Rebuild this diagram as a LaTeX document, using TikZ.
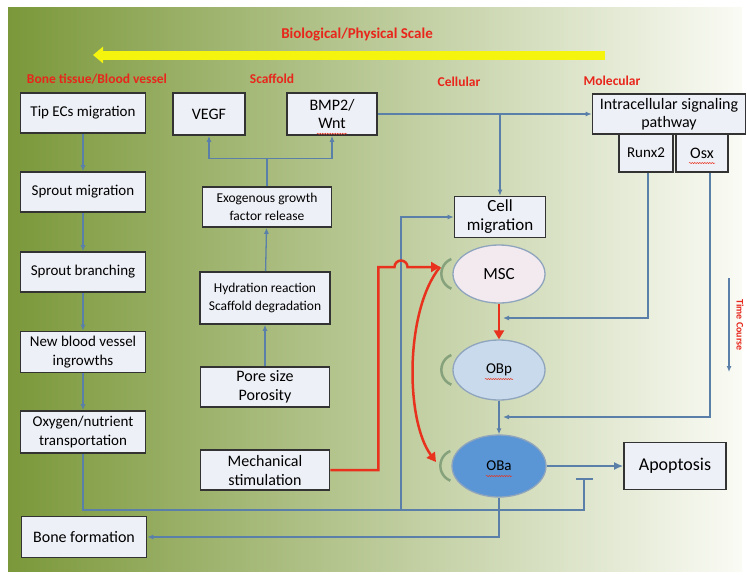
\documentclass[tikz,border=0pt]{standalone}
\usepackage{fontspec}
\setmainfont{Carlito}
\usetikzlibrary{shapes.geometric,arrows.meta,decorations.pathmorphing}

\definecolor{bgleft}{HTML}{7B983A}
\definecolor{bgmid}{HTML}{BFCF95}
\definecolor{bgright}{HTML}{FAFBF5}
\definecolor{boxfill}{HTML}{EEF0F7}
\definecolor{boxline}{HTML}{333333}
\definecolor{linkblue}{HTML}{5A7FA8}
\definecolor{redline}{HTML}{E8321E}
\definecolor{scalered}{HTML}{E8261C}
\definecolor{scaleyellow}{HTML}{F4F40E}
\definecolor{loopgreen}{HTML}{86A27C}
\definecolor{cellline}{HTML}{8FA5BD}
\definecolor{mscfill}{HTML}{F3EAF0}
\definecolor{obpfill}{HTML}{C9DAEC}
\definecolor{obafill}{HTML}{5A95D5}

\begin{document}
\begin{tikzpicture}[x=1pt,y=-1pt,
  >={Latex[length=6pt,width=5pt]},
  box/.style={rectangle,draw=boxline,fill=boxfill,line width=1.6pt,inner sep=1pt,align=center,font=\fontsize{15}{19}\selectfont},
  smallbox/.style={box,font=\fontsize{13.5}{18}\selectfont},
  cell/.style={ellipse,draw=cellline,line width=1.3pt,inner sep=0pt,minimum width=92pt,minimum height=60pt,font=\fontsize{15}{16}\selectfont},
  scalelabel/.style={text=scalered,font=\bfseries\fontsize{13.5}{15}\selectfont},
  link/.style={draw=linkblue,line width=1.3pt},
  redlink/.style={draw=redline,line width=2.5pt,>={Triangle[length=9pt,width=10pt]}},
  renew/.style={draw=loopgreen,line width=2.5pt},
  spell/.style={draw=redline,line width=0.5pt,decorate,decoration={snake,amplitude=0.6pt,segment length=2.5pt}}]
\useasboundingbox (0,0) rectangle (747,574);
\fill[white] (0,0) rectangle (747,574);
\shade[left color=bgleft,middle color=bgmid,right color=bgright] (8,7) rectangle (742,571);

\path (357,35) node[scalelabel,font=\bfseries\fontsize{15}{17}\selectfont] (title) {Biological/Physical Scale};
\coordinate (scaleR) at (605,55);
\coordinate (scaleL) at (93,55);
\draw[draw=scaleyellow,line width=9pt,-{Triangle[length=10pt,width=16pt]}] (scaleR) -- (scaleL);

\path (97,79) node[scalelabel] (tissue) {Bone tissue/Blood vessel};
\path (272,79) node[scalelabel] (scaffold) {Scaffold};
\path (459,82) node[scalelabel] (cellular) {Cellular};
\path (612,81) node[scalelabel] (molecular) {Molecular};

\path (83,113) node[box,minimum width=125pt,minimum height=40pt] (tip) {Tip ECs migration};
\path (83,192) node[box,minimum width=125pt,minimum height=40pt] (sproutmig) {Sprout migration};
\draw[link,->] (tip) -- (sproutmig);
\path (83,272) node[box,minimum width=125pt,minimum height=40pt] (branching) {Sprout branching};
\draw[link,->] (sproutmig) -- (branching);
\path (83,352) node[box,minimum width=125pt,minimum height=41pt] (vessel) {New blood vessel\\ingrowths};
\draw[link,->] (branching) -- (vessel);
\path (83,432) node[box,minimum width=125pt,minimum height=42pt] (oxygen) {Oxygen/nutrient\\transportation};
\draw[link,->] (vessel) -- (oxygen);
\path (84,537) node[box,minimum width=125pt,minimum height=41pt,font=\fontsize{16}{18}\selectfont] (bone) {Bone formation};

\path (209,114) node[box,minimum width=72pt,minimum height=42pt,font=\fontsize{16}{18}\selectfont] (vegf) {VEGF};
\path (332,114) node[box,minimum width=90pt,minimum height=42pt,font=\fontsize{16}{18}\selectfont] (bmp) {BMP2/\\Wnt};
\path (267,207) node[smallbox,minimum width=129pt,minimum height=40pt] (exo) {Exogenous growth\\factor release};
\draw[link,->] (exo.north) -- ++(0,-28) -| (vegf.south);
\draw[link,->] (exo.north) -- ++(0,-28) -| (bmp.south);
\path (265,298) node[smallbox,minimum width=130pt,minimum height=52pt] (hydra) {Hydration reaction\\Scaffold degradation};
\draw[link,->] (hydra) -- (exo);
\path (265,387) node[box,minimum width=129pt,minimum height=40pt,font=\fontsize{16}{19}\selectfont] (pore) {Pore size\\Porosity};
\draw[link,->] (pore) -- (hydra);
\path (265,470) node[box,minimum width=129pt,minimum height=40pt,font=\fontsize{16}{19}\selectfont] (mech) {Mechanical\\stimulation};

\path (500,217) node[box,minimum width=91pt,minimum height=41pt,font=\fontsize{17}{19}\selectfont] (cellmig) {Cell\\migration};
\path (669,114) node[box,minimum width=153pt,minimum height=40pt,font=\fontsize{16}{18}\selectfont] (signal) {Intracellular signaling\\pathway};
\path (646,153) node[box,minimum width=54pt,minimum height=38pt] (runx) {Runx2};
\path (702,153) node[box,minimum width=52pt,minimum height=38pt,font=\fontsize{16}{18}\selectfont] (osx) {Osx};
\draw[link,->] (bmp.east) -- (bmp.east -| signal.west);
\draw[link,->] (bmp.east -| cellmig.north) -- (cellmig.north);

\path (499,274) node[cell,fill=mscfill,minimum height=58pt,font=\fontsize{17}{18}\selectfont] (msc) {MSC};
\path (499,370) node[cell,fill=obpfill] (obp) {OBp};
\path (499,466) node[cell,fill=obafill,minimum width=94pt,minimum height=62pt] (oba) {OBa};
\draw[redlink,->] (msc) -- (obp);
\draw[link,->] (obp) -- (oba);
\draw[renew] ([xshift=-1pt,yshift=15pt]msc.west) arc[start angle=112,end angle=248,radius=16pt];
\draw[renew] ([xshift=-1pt,yshift=15pt]obp.west) arc[start angle=112,end angle=248,radius=16pt];
\draw[renew] ([xshift=-1pt,yshift=15pt]oba.west) arc[start angle=112,end angle=248,radius=16pt];

\coordinate (runxin) at (503,318);
\draw[link,->] ([xshift=2pt]runx.south) |- (runxin);
\coordinate (osxin) at (503,417);
\draw[link,->] ([xshift=8pt]osx.south) |- (osxin);

\path (675,466) node[box,minimum width=102pt,minimum height=47pt,font=\fontsize{18}{20}\selectfont] (apop) {Apoptosis};
\draw[link,line width=2.5pt,-{Latex[length=9pt,width=8pt]}] (oba) -- (apop);
\draw[link,->] (oba.south) |- (bone.east);

\coordinate (block) at (584,478);
\coordinate (split) at (401,510);
\draw[link,-{Bar[width=17pt,line width=2pt]}] (oxygen.south) |- (split) -| (block);
\draw[link,->] (split) |- (cellmig.west);

\coordinate (hop) at (401,267);
\coordinate (mscin) at (440,267);
\coordinate (obain) at (436,462);
\draw[redlink,->] (mech.east) -- ++(48,0) |- ([xshift=-6.5pt]hop) arc[start angle=180,end angle=0,radius=6.5pt] -- (mscin);
\draw[redlink,->] (mscin) .. controls (405,310) and (405,420) .. (obain);

\coordinate (timetop) at (729,278);
\coordinate (timebot) at (729,372);
\draw[link,->] (timetop) -- (timebot);
\path (740,325) node[rotate=-90,inner sep=1pt,text=scalered,font=\bfseries\fontsize{10}{11}\selectfont] (time) {Time Course};

\draw[spell] ([shift={(-15,-2)}]bmp.south) -- ++(30,0);
\draw[spell] ([shift={(-13,10)}]osx.center) -- ++(26,0);
\draw[spell] ([shift={(-14,9)}]obp.center) -- ++(28,0);
\draw[spell] ([shift={(-13,10)}]oba.center) -- ++(26,0);
\end{tikzpicture}
\end{document}
